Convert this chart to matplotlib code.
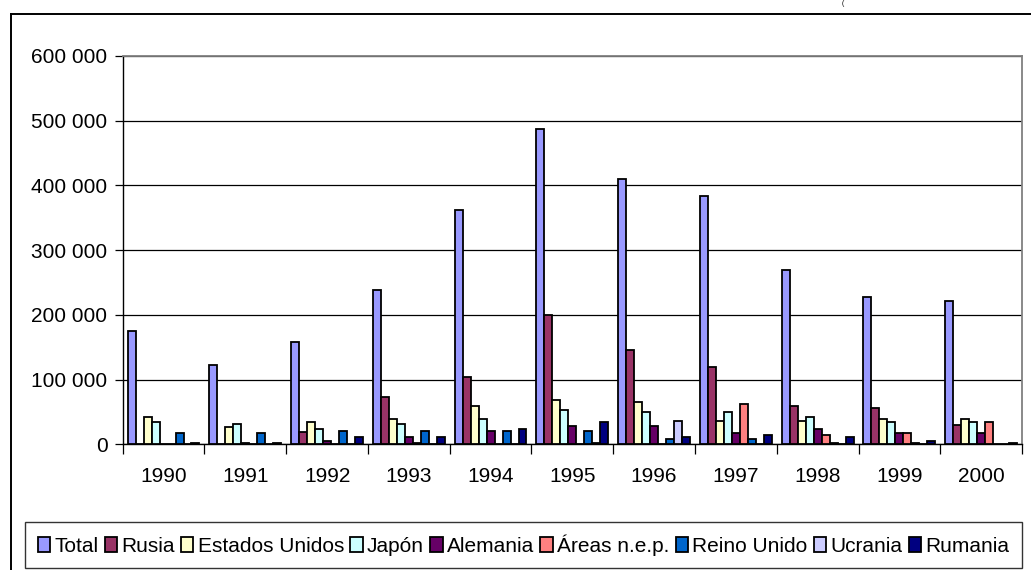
import numpy as np
import matplotlib
matplotlib.use("Agg")
import matplotlib.pyplot as plt
from matplotlib.ticker import FuncFormatter, MultipleLocator
from matplotlib.lines import Line2D

plt.rcParams['font.family'] = ['Liberation Sans', 'DejaVu Sans']

years = ['1990', '1991', '1992', '1993', '1994', '1995', '1996', '1997', '1998', '1999', '2000']

total = [175000, 123000, 158000, 238000, 362000, 487000, 410000, 384000, 270000, 228000, 221000]
rusia = [0, 0, 20000, 73000, 104000, 200000, 146000, 120000, 59000, 56000, 30000]
estados_unidos = [43000, 27000, 34000, 40000, 59000, 69000, 65000, 37000, 37000, 39000, 39000]
japon = [34000, 31000, 24000, 31000, 40000, 53000, 50000, 50000, 43000, 34000, 34000]
alemania = [0, 2000, 5000, 11000, 21000, 28000, 28000, 17000, 24000, 17000, 17000]
areas_nep = [0, 0, 0, 2000, 0, 0, 0, 63000, 15000, 17000, 34000]
reino_unido = [17000, 17000, 21000, 21000, 21000, 21000, 9000, 9000, 2000, 2000, 0]
ucrania = [0, 0, 0, 0, 0, 2000, 37000, 0, 0, 0, 0]
rumania = [2000, 2000, 11000, 11000, 24000, 34000, 11000, 15000, 11000, 5000, 2000]

series = [
    ('Total', total, '#9999FF'),
    ('Rusia', rusia, '#993366'),
    ('Estados Unidos', estados_unidos, '#FFFFCC'),
    ('Japón', japon, '#CCFFFF'),
    ('Alemania', alemania, '#660066'),
    ('Áreas n.e.p.', areas_nep, '#FF8080'),
    ('Reino Unido', reino_unido, '#0066CC'),
    ('Ucrania', ucrania, '#CCCCFF'),
    ('Rumania', rumania, '#000080'),
]

fs = 15

fig = plt.figure(figsize=(10.31, 5.70), dpi=100)
ax = fig.add_axes([0.119, 0.2202, 0.8723, 0.6816])

x = np.arange(len(years))
width = 1 / 10.25
n = len(series)
for i, (name, vals, color) in enumerate(series):
    offset = (i - (n - 1) / 2) * width
    ax.bar(x + offset, vals, width, color=color, edgecolor='black',
           linewidth=1.3, label=name, zorder=3)

ax.set_ylim(0, 600000)
ax.set_xlim(-0.5, len(years) - 0.5)
ax.yaxis.set_major_locator(MultipleLocator(100000))
ax.yaxis.set_major_formatter(FuncFormatter(lambda v, p: f"{int(v):,}".replace(',', ' ')))
ax.grid(axis='y', color='black', linewidth=0.9, zorder=0)

# ticks at category boundaries, year labels centred
ax.set_xticks(np.arange(len(years) + 1) - 0.5)
ax.set_xticklabels([])
ax.set_xticks(x, minor=True)
ax.set_xticklabels(years, minor=True)
ax.tick_params(axis='x', which='major', length=7, width=0.9, direction='out')
ax.tick_params(axis='x', which='minor', length=0, pad=16, labelsize=fs)
ax.tick_params(axis='y', length=6, width=0.9, pad=5, labelsize=fs)

for side in ('top', 'right'):
    ax.spines[side].set_color('#808080')
    ax.spines[side].set_linewidth(1.3)
for side in ('left', 'bottom'):
    ax.spines[side].set_color('black')
    ax.spines[side].set_linewidth(1.0)

leg = fig.legend(loc='lower left', bbox_to_anchor=(25 / 1031, 2 / 570), ncol=9,
                 fontsize=fs, frameon=True, fancybox=False, edgecolor='black',
                 handlelength=0.6, handleheight=0.75, handletextpad=0.2,
                 columnspacing=0.3, borderpad=0.6, borderaxespad=0)
leg.get_frame().set_linewidth(1.0)

# outer chart border
fig.add_artist(Line2D([11 / 1031, 1.0], [1 - 14 / 570] * 2, color='black', linewidth=1.4))
fig.add_artist(Line2D([11 / 1031] * 2, [0.0, 1 - 14 / 570], color='black', linewidth=1.4))
fig.text(843 / 1031, 1.0, '(', fontsize=5, ha='center', va='top')

fig.savefig('out.png', dpi=100)
